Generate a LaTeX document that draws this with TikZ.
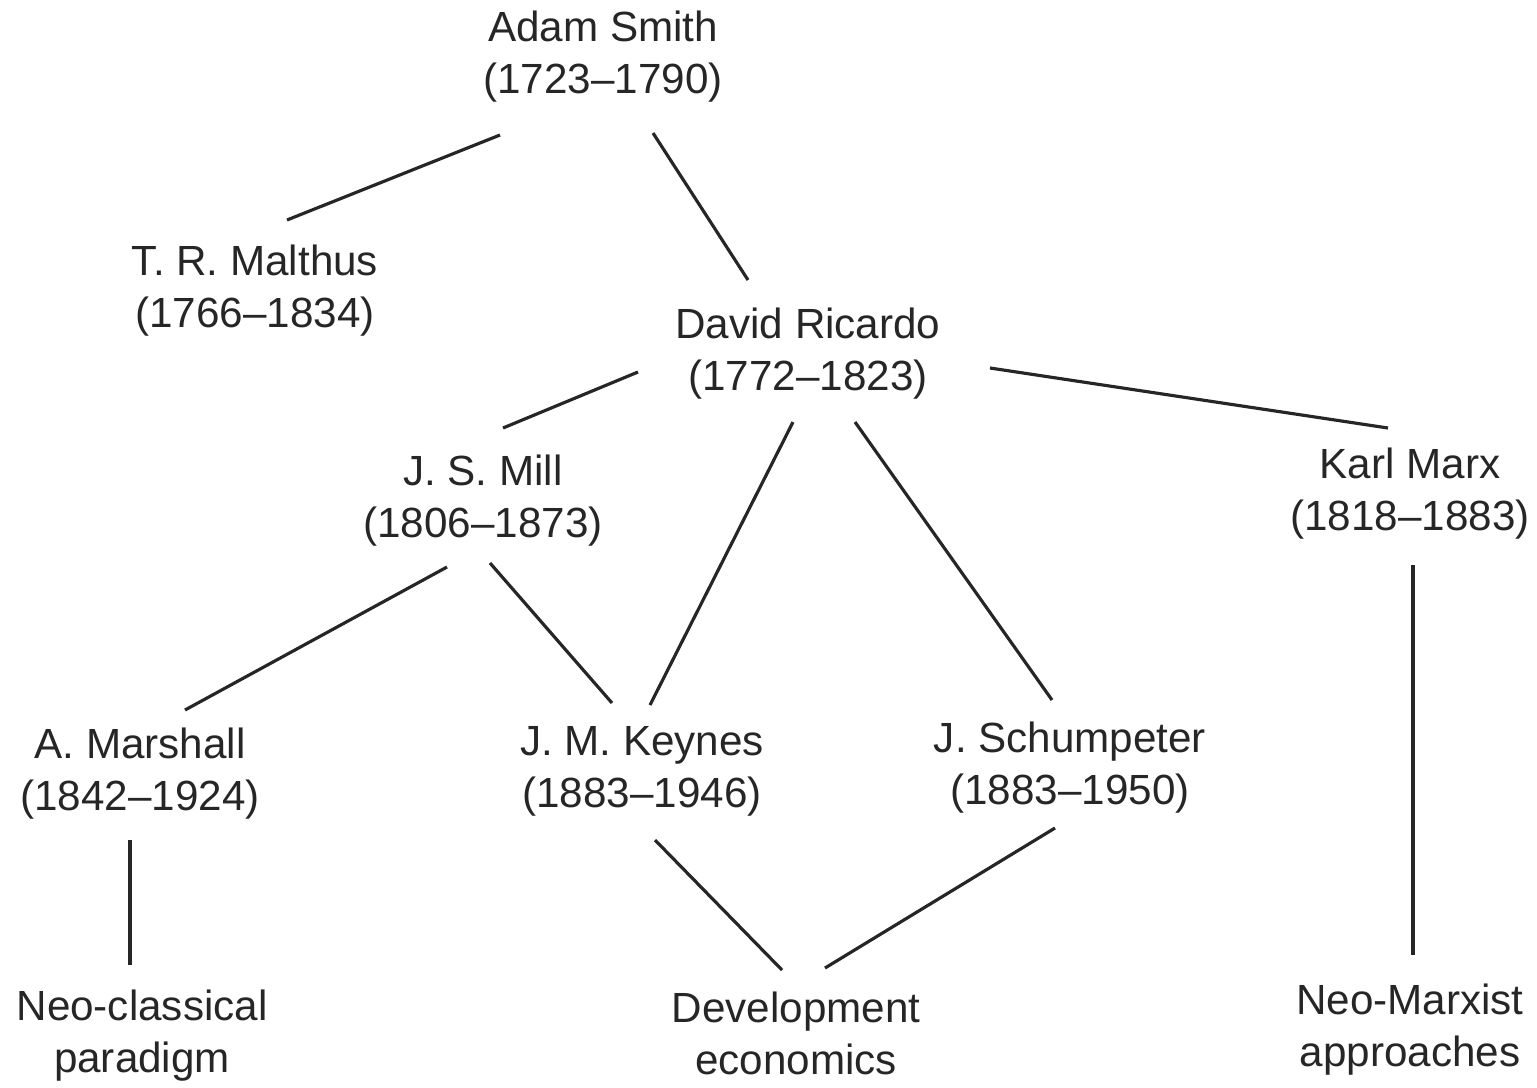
\documentclass[tikz,border=0pt]{standalone}
\usepackage{fontspec}
\setmainfont{Liberation Sans}
\begin{document}
\begin{tikzpicture}[x=0.01cm,y=-0.01cm,
  person/.style={align=center,inner sep=0pt,text=black!85,font=\fontsize{12}{14.8}\selectfont},
  link/.style={line width=0.9pt,black!85}]
\useasboundingbox (0,0) rectangle (1537,1087);
\node[person] (smith) at (603,57) {Adam Smith\\(1723–1790)};
\node[person] (malthus) at (255,291) {T. R. Malthus\\(1766–1834)};
\node[person] (ricardo) at (808,354) {David Ricardo\\(1772–1823)};
\node[person] (mill) at (483,501) {J. S. Mill\\(1806–1873)};
\node[person] (marx) at (1410,494) {Karl Marx\\(1818–1883)};
\node[person] (marshall) at (140,774) {A. Marshall\\(1842–1924)};
\node[person] (keynes) at (642,771) {J. M. Keynes\\(1883–1946)};
\node[person] (schumpeter) at (1070,768) {J. Schumpeter\\(1883–1950)};
\node[person] (neoclass) at (142,1036) {Neo-classical\\paradigm};
\node[person] (dev) at (796,1033) {Development\\economics};
\node[person] (neomarx) at (1410,1030) {Neo-Marxist\\approaches};
\draw[link] ([shift={(-103,78)}]smith.center) -- ([shift={(32,-71)}]malthus.center);
\draw[link] ([shift={(50,76)}]smith.center) -- ([shift={(-60,-74)}]ricardo.center);
\draw[link] ([shift={(-170,18)}]ricardo.center) -- ([shift={(20,-73)}]mill.center);
\draw[link] ([shift={(182,14)}]ricardo.center) -- ([shift={(-22,-66)}]marx.center);
\draw[link] ([shift={(-15,68)}]ricardo.center) -- ([shift={(8,-66)}]keynes.center);
\draw[link] ([shift={(47,68)}]ricardo.center) -- ([shift={(-18,-68)}]schumpeter.center);
\draw[link] ([shift={(-36,66)}]mill.center) -- ([shift={(45,-64)}]marshall.center);
\draw[link] ([shift={(7,62)}]mill.center) -- ([shift={(-30,-68)}]keynes.center);
\draw[link] ([shift={(-10,66)}]marshall.center) -- ([shift={(-12,-71)}]neoclass.center);
\draw[link] ([shift={(13,69)}]keynes.center) -- ([shift={(-14,-63)}]dev.center);
\draw[link] ([shift={(-15,60)}]schumpeter.center) -- ([shift={(29,-65)}]dev.center);
\draw[link] ([shift={(3,71)}]marx.center) -- ([shift={(3,-75)}]neomarx.center);
\end{tikzpicture}
\end{document}
